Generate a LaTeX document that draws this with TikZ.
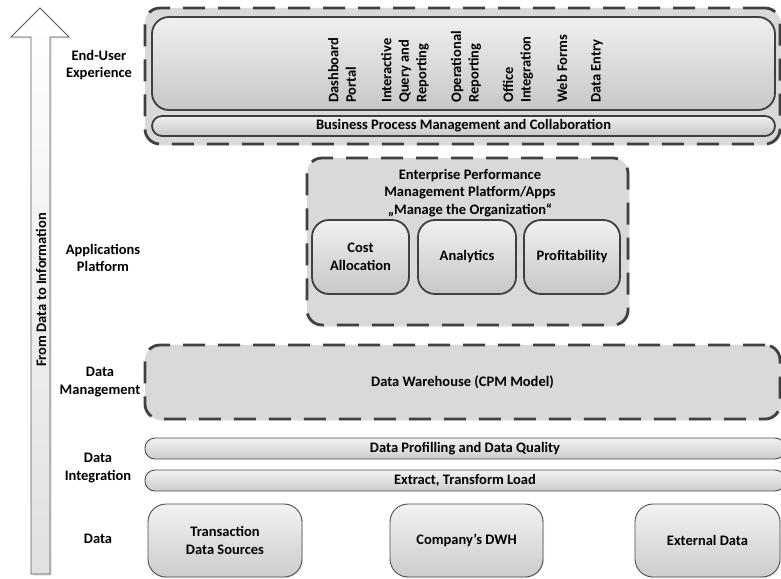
\documentclass[tikz,border=0pt]{standalone}
\usepackage{fontspec}
\setmainfont{Carlito}
\usetikzlibrary{shadows}

\tikzset{
  layer/.style={align=center},
  zone/.style={draw=black!75, line width=2.8pt, dash pattern=on 22pt off 13pt, rounded corners=15pt,
    fill=black!15, drop shadow={opacity=0.25, shadow xshift=1.5pt, shadow yshift=-1.5pt}},
  block/.style={draw=black!75, line width=1.8pt, rounded corners=17pt, top color=black!6, bottom color=black!22,
    align=center, inner sep=0pt},
  source/.style={draw=black!70, line width=0.9pt, rounded corners=18pt, top color=black!5, bottom color=black!20,
    align=center, inner sep=0pt, drop shadow={opacity=0.2, shadow xshift=1pt, shadow yshift=-1pt}},
  bar/.style={draw=black!70, line width=0.9pt, rounded corners=10pt, top color=black!5, bottom color=black!20,
    inner sep=0pt, minimum height=21pt}
}

\begin{document}
\begin{tikzpicture}[x=1pt, y=-1pt, font=\fontsize{14.5}{17.5}\selectfont\bfseries]
\useasboundingbox (0,0) rectangle (781,578);

% arrow on the left
\draw[black!65, line width=0.8pt, top color=white, bottom color=black!12,
      drop shadow={opacity=0.25, shadow xshift=1.5pt, shadow yshift=-1.5pt}]
  (40,8) -- (69,37) -- (50,37) -- (50,574) -- (31,574) -- (31,37) -- (11,37) -- cycle;
\node[rotate=90] (flow) at (41,290) {From Data to Information};

% layer names
\node[layer] (lEue)  at (99,65)  {End-User\\Experience};
\node[layer] (lApp)  at (103,258) {Applications\\Platform};
\node[layer] (lMgmt) at (100,382) {Data\\Management};
\node[layer] (lInt)  at (98,468) {Data\\Integration};
\node[layer] (lData) at (98,539) {Data};

% end-user experience
\node[zone, minimum width=635pt, minimum height=136pt] (eue) at (462.5,76) {};
\node[block, minimum width=623pt, minimum height=93pt] (eueIn) at (463.5,63.5) {};
\node[block, rounded corners=10pt, minimum width=623pt, minimum height=20pt] (bpm) at (463.5,126)
  {Business Process Management and Collaboration};
\foreach \x/\t in {342/{Dashboard\\Portal}, 405/{Interactive\\Query and\\Reporting},
                   466/{Operational\\Reporting}, 518/{Office\\Integration},
                   562/{Web Forms}, 597/{Data Entry}}
  \node[rotate=90, anchor=west, align=left, inner sep=0pt] at (\x,103) {\t};

% applications platform
\node[zone, minimum width=321pt, minimum height=167pt] (epm) at (467.5,241.5) {};
\node[layer] (epmTitle) at (470,193) {Enterprise Performance\\Management Platform/Apps\\„Manage the Organization“};
\node[block, minimum width=97pt, minimum height=74pt] (cost) at (360.5,257) {Cost\\Allocation};
\node[block, minimum width=98pt, minimum height=74pt] (analytics) at (467,257) {Analytics};
\node[block, minimum width=96pt, minimum height=74pt] (profit) at (572,257) {Profitability};

% data management
\node[zone, minimum width=635pt, minimum height=74pt] (dwh) at (462.5,382)
  {Data Warehouse (CPM Model)};

% data integration
\node[bar, minimum width=640pt] (quality) at (465,448.5) {Data Profilling and Data Quality};
\node[bar, minimum width=640pt] (etl) at (465,480.5) {Extract, Transform Load};

% data sources
\node[source, minimum width=154pt, minimum height=73pt] (trans) at (225,540.5) {Transaction\\Data Sources};
\node[source, minimum width=153pt, minimum height=73pt] (company) at (466.5,540.5) {Company’s DWH};
\node[source, minimum width=145pt, minimum height=73pt] (external) at (707.5,540.5) {External Data};
\end{tikzpicture}
\end{document}
